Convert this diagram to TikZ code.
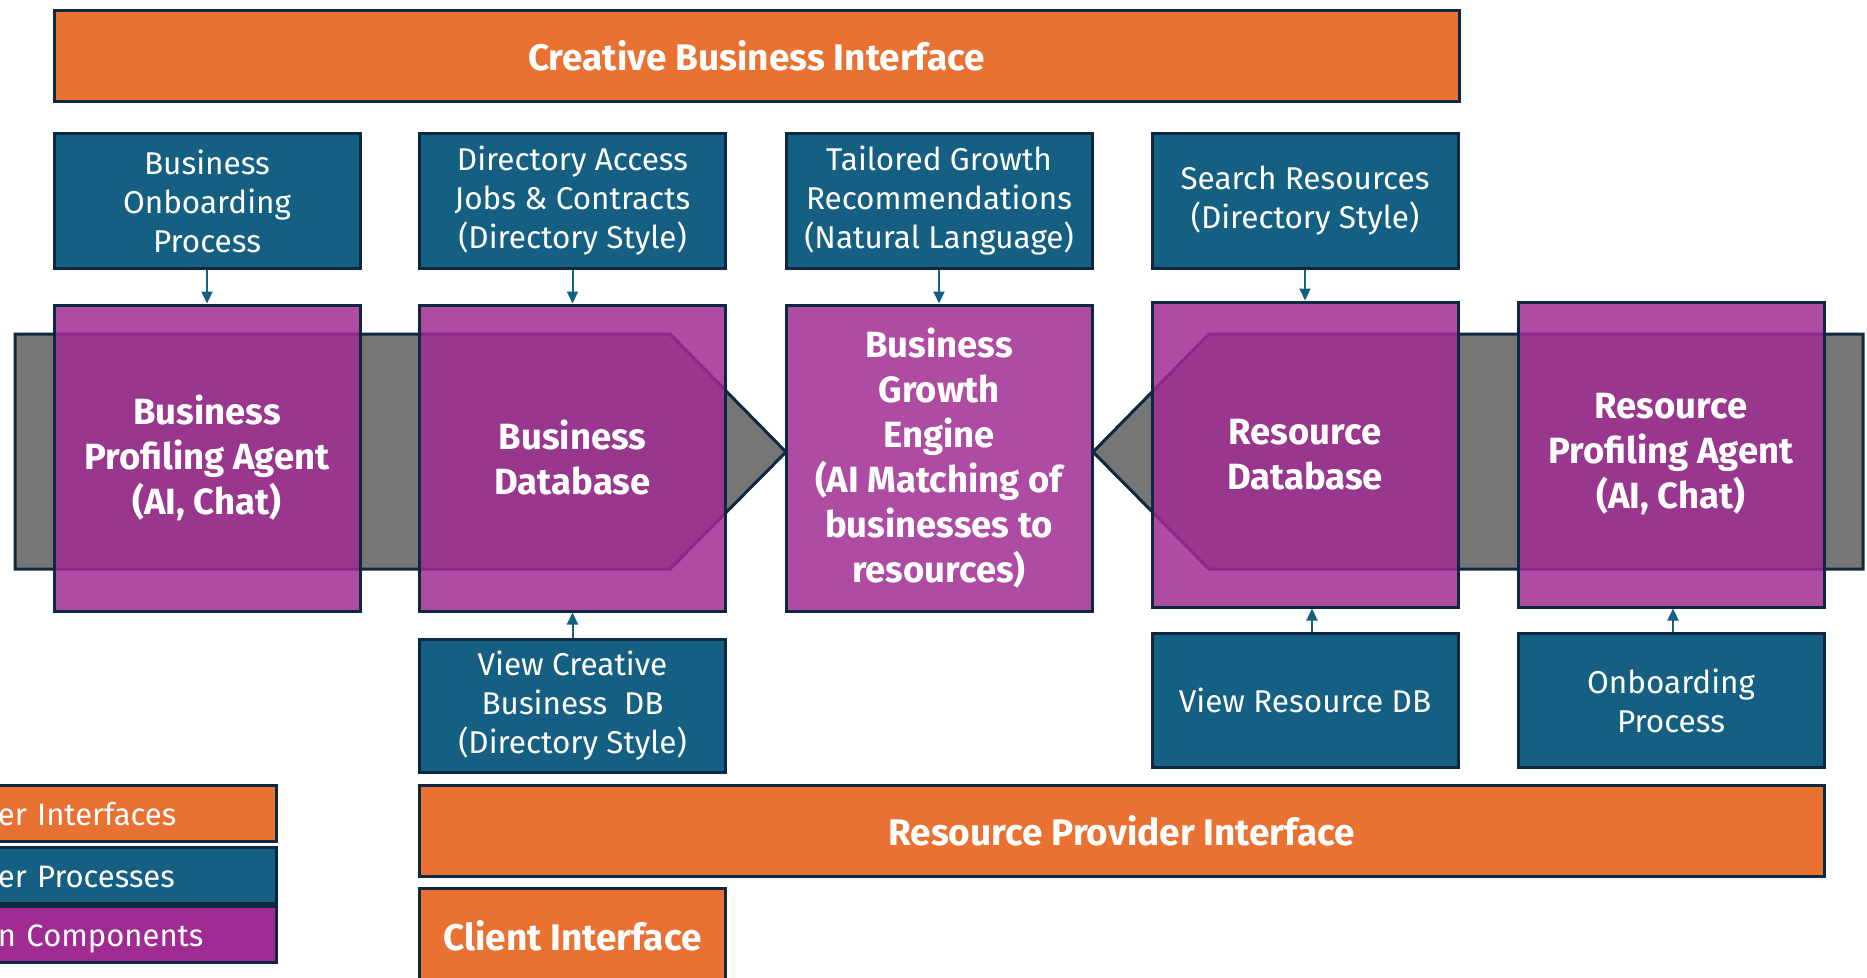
\documentclass[tikz,border=0pt]{standalone}
\usepackage{fontspec}
\setmainfont{Fira Sans}
\usetikzlibrary{arrows.meta}

\definecolor{uiorange}{HTML}{E97132}
\definecolor{procblue}{HTML}{156082}
\definecolor{syspurple}{HTML}{A02B93}
\definecolor{edgedark}{HTML}{0E2841}
\definecolor{bandgray}{HTML}{767676}

\begin{document}
\begin{tikzpicture}[x=1pt, y=-1pt,
    box/.style={draw=edgedark, line width=3pt, text=white, align=center, inner sep=0pt, minimum width=306pt},
    iface/.style={box, fill=uiorange, minimum height=91pt, font=\fontsize{37}{42}\selectfont\bfseries},
    proc/.style={box, fill=procblue, minimum height=135pt, font=\fontsize{31.5}{39}\selectfont},
    comp/.style={box, fill=syspurple, fill opacity=0.85, text opacity=1, minimum height=306pt, font=\fontsize{36.5}{45}\selectfont\bfseries},
    legend/.style={draw=edgedark, line width=3pt, text=white, minimum height=56pt, text width=250pt, text height=30pt, text depth=6pt, align=left, inner xsep=28pt, inner ysep=0pt, font=\fontsize{31}{34}\selectfont},
    feed/.style={procblue, line width=2pt, -{Triangle[length=12pt, width=11pt]}}
]
        \useasboundingbox (0,0) rectangle (1867,977);

        % Band
        \draw[fill=bandgray, draw=edgedark, line width=3pt] (15,334) -- (670,334) -- (786,452) -- (670,569) -- (15,569) -- cycle;
        \draw[fill=bandgray, draw=edgedark, line width=3pt] (1093,452) -- (1209,334) -- (1863,334) -- (1863,569) -- (1209,569) -- cycle;

        % Interfaces
        \node[iface, minimum width=1405pt] (cbi) at (756.5,55.5) {Creative Business Interface};
        \node[iface, minimum width=1405pt] (rpi) at (1121.5,830.5) {Resource Provider Interface};
        \node[iface, minimum height=96pt] (cli) at (572.5,936) {Client Interface};

        % Processes
        \node[proc] (bop) at (207,201) {Business\\Onboarding\\Process};
        \node[proc] (dir) at (572.5,201) {Directory Access\\Jobs \& Contracts\\(Directory Style)};
        \node[proc] (tgr) at (939,201) {Tailored Growth\\Recommendations\\(Natural Language)};
        \node[proc] (srs) at (1305,201) {Search Resources\\(Directory Style)};
        \node[proc, minimum height=133pt] (vcb) at (572.5,706) {View Creative\\Business\ \ DB\\(Directory Style)};
        \node[proc, minimum height=134pt] (vrd) at (1305,700.5) {View Resource DB};
        \node[proc, minimum height=134pt] (onb) at (1671,700.5) {Onboarding\\Process};

        % Components
        \node[comp] (bpa) at (207,458) {Business\\Profiling Agent\\(AI, Chat)};
        \node[comp] (bdb) at (572.5,458) {Business\\Database};
        \node[comp] (bge) at (939,458) {Business\\Growth\\Engine\\(AI Matching of\\businesses to\\resources)};
        \node[comp, minimum height=305pt] (rdb) at (1305,454.5) {Resource\\Database};
        \node[comp, minimum height=305pt] (rpa) at (1671,454.5) {Resource\\Profiling Agent\\(AI, Chat)};

        % Legend
        \node[legend, fill=uiorange] (lui) at (123,813) {er Interfaces};
        \node[legend, fill=procblue] (lup) at (123,875) {er Processes};
        \node[legend, fill=syspurple] (lsc) at (123,934.5) {n Components};

        % Edges
        \draw[feed] (bop) -- (bpa);
        \draw[feed] (dir) -- (bdb);
        \draw[feed] (tgr) -- (bge);
        \draw[feed] (srs) -- (rdb);
        \draw[feed] (vcb) -- (bdb);
        \draw[feed] ([xshift=7pt]vrd.north) -- ([xshift=7pt]rdb.south);
        \draw[feed] ([xshift=2pt]onb.north) -- ([xshift=2pt]rpa.south);

    \end{tikzpicture}
\end{document}
